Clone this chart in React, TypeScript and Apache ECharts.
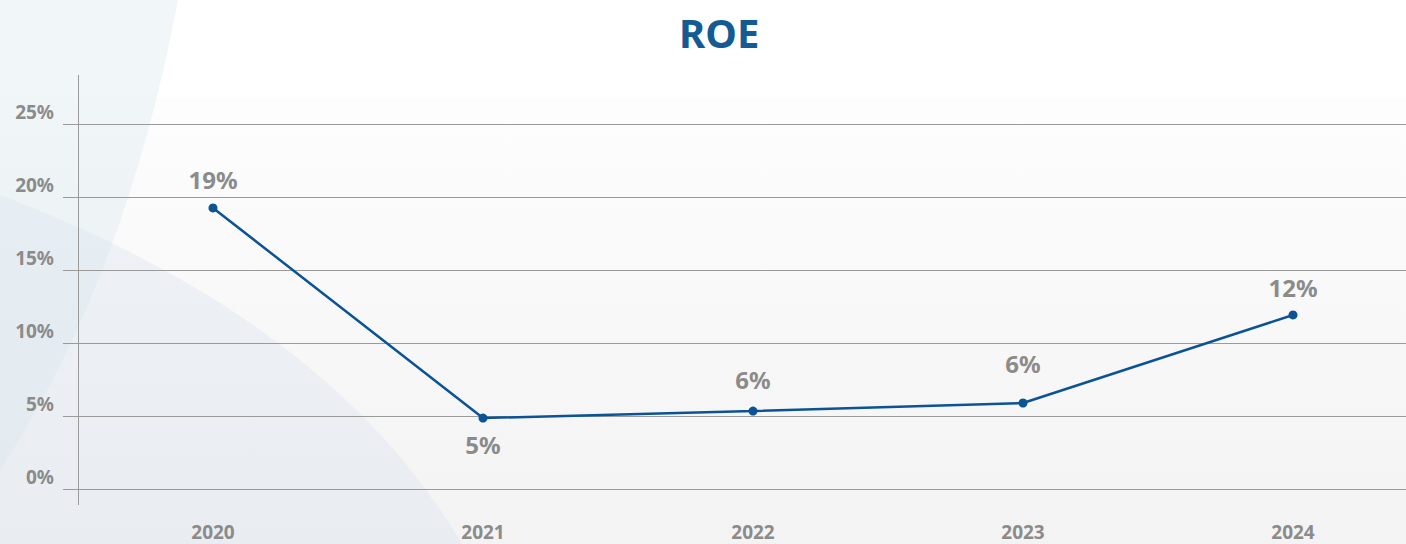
import React, { useEffect, useRef } from "react";
import * as echarts from "echarts";

const categories = ["2020", "2021", "2022", "2023", "2024"];
const roeValues = [19.25, 4.86, 5.34, 5.89, 11.92];
const roeLabels = ["19%", "5%", "6%", "6%", "12%"];
const yTicks = [0, 5, 10, 15, 20, 25];

const labelPlacement = [
  { position: "top", distance: 12 },
  { position: "bottom", distance: 10 },
  { position: "top", distance: 15 },
  { position: "top", distance: 23 },
  { position: "top", distance: 11 },
];

echarts.graphic.registerShape(
  "bgLeftArc",
  echarts.graphic.extendPath("M0 0 L178 0 Q125 280 0 470 Z", {}) as any
);
echarts.graphic.registerShape(
  "bgLowArc",
  echarts.graphic.extendPath("M0 195 Q330 320 462 544 L0 544 Z", {}) as any
);

export default function App() {
  const ref = useRef<HTMLDivElement>(null);
  useEffect(() => {
    if (!ref.current) return;
    const chart = echarts.init(ref.current, null, { renderer: "svg" });
    const gray = "#8b8b8b";
    const font = "'Noto Sans', sans-serif";
    chart.setOption({
      animation: false,
      backgroundColor: "#ffffff",
      title: {
        text: "ROE",
        left: 674,
        top: 7,
        textStyle: { color: "#155b93", fontSize: 40, fontWeight: "bold", fontFamily: font },
      },
      graphic: {
        elements: [
          {
            type: "rect",
            z: -100,
            shape: { x: 0, y: 97, width: 1406, height: 447 },
            style: {
              fill: new echarts.graphic.LinearGradient(0, 0, 0, 1, [
                { offset: 0, color: "#fdfdfd" },
                { offset: 1, color: "#f3f3f3" },
              ]),
            },
          },
          { type: "bgLeftArc", z: -99, x: 0, y: 0, scaleX: 1, scaleY: 1, style: { fill: "rgba(214,228,238,0.35)" } },
          { type: "bgLowArc", z: -98, x: 0, y: 0, scaleX: 1, scaleY: 1, style: { fill: "rgba(214,226,238,0.35)" } },
          {
            type: "line",
            z: 5,
            shape: { x1: 78.5, y1: 75, x2: 78.5, y2: 505 },
            style: { stroke: "#9a9a9a", lineWidth: 1 },
          },
        ],
      },
      grid: {
        left: 78,
        right: -22,
        top: 124,
        bottom: 55,
        containLabel: false,
        outerBoundsMode: "none",
      },
      xAxis: {
        type: "category",
        data: categories,
        boundaryGap: true,
        axisLine: { show: false },
        axisTick: { show: false },
        axisLabel: { color: gray, fontSize: 19, fontWeight: "bold", fontFamily: font, margin: 33 },
      },
      yAxis: {
        type: "value",
        min: yTicks[0],
        max: yTicks[yTicks.length - 1],
        interval: 5,
        axisLine: { show: false },
        axisTick: { show: true, length: 15, lineStyle: { color: "#9a9a9a" } },
        splitLine: { show: true, lineStyle: { color: "#9a9a9a", width: 1 } },
        axisLabel: {
          color: gray,
          fontSize: 19,
          fontWeight: "bold",
          fontFamily: font,
          margin: 24,
          verticalAlign: "bottom",
          padding: [0, 0, 3, 0],
          formatter: (v: number) => `${v}%`,
        },
      },
      series: [
        {
          type: "line",
          data: roeValues.map((v, i) => ({
            value: v,
            label: {
              show: true,
              position: labelPlacement[i].position,
              distance: labelPlacement[i].distance,
              formatter: roeLabels[i],
            },
          })),
          symbol: "circle",
          symbolSize: 9,
          lineStyle: { color: "#0b5394", width: 2.5 },
          itemStyle: { color: "#0b5394" },
          label: {
            show: true,
            color: gray,
            fontSize: 24,
            fontWeight: "bold",
            fontFamily: font,
          },
          z: 10,
        },
      ],
    });
    return () => chart.dispose();
  }, []);
  return (
    <div
      ref={ref}
      style={{ position: "fixed", left: 0, top: 0, width: 1406, height: 544 }}
    />
  );
}
